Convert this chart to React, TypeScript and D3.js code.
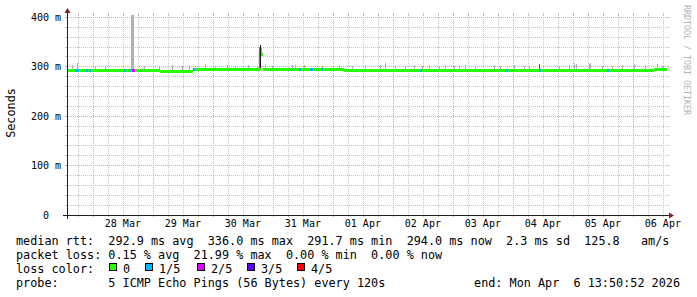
import React from 'react';
import * as d3 from 'd3';

// ---- time frame (UTC) ----
const END_MS = Date.UTC(2026, 3, 6, 13, 50, 52);
const RANGE_HOURS = 240;
const START_MS = END_MS - RANGE_HOURS * 3600e3;

// ---- median rtt (ms), step segments: hours after graph start ----
const medianHours = [0, 37.2, 50.4, 77.6, 78.4, 110.8, 234.8];
const medianMs = [293.0, 291.2, 294.5, 324.0, 294.5, 292.5, 294.0];

// ---- packet loss events: hour after start, lost pings (of 5) ----
const lossHours = [3.2, 4.0, 7.6, 9.0, 23.0, 25.0, 26.0, 26.4, 50.4, 92.8, 97.2, 97.6, 101.8, 141.2, 175.6, 188.8, 216.2];
const lossPings = [1, 1, 1, 1, 1, 1, 2, 2, 1, 1, 1, 1, 1, 1, 1, 1, 1];

// ---- smoke (other pings above the median): hour, top value (ms), pings at that height ----
const smokeHours = [
  2.0, 4.0, 11.2, 15.2, 25.6, 26.0, 26.4, 30.8, 36.8, 42.0, 46.0, 48.8, 55.2, 59.2, 64.0, 67.2, 72.4, 76.0,
  76.8, 77.2, 77.6,
  79.2, 82.0, 90.0, 91.2, 94.8, 102.0, 108.8, 114.0, 119.2, 125.2, 127.2, 131.2, 135.2, 138.8, 142.0, 144.8,
  148.8, 151.2, 154.8, 156.8,
  159.2, 163.2, 170.8, 173.2, 178.8, 182.8, 184.8, 188.8, 196.8, 200.8, 202.8, 203.6, 208.8, 209.2, 214.0,
  218.0, 222.0, 226.8, 231.2, 236.0, 238.0,
];
const smokeTopMs = [
  304, 307, 301, 301, 420, 420, 420, 301, 301, 304, 302, 303.5, 305, 302, 304, 302, 304, 302,
  340, 344, 338,
  303, 302, 304.5, 304.5, 304.5, 302, 304.5, 302, 303, 303, 308, 302, 302, 303, 302, 303,
  302, 303, 302, 303,
  303, 302, 303, 302, 303, 302, 302, 306, 302, 303, 308, 306, 305, 308, 302,
  302, 303, 306, 304, 305, 302,
];
const smokePings = [
  1, 1, 1, 1, 1, 1, 1, 1, 1, 1, 1, 1, 1, 1, 1, 1, 1, 1,
  3, 5, 2,
  1, 1, 1, 1, 1, 1, 1, 1, 1, 1, 1, 1, 1, 1, 1, 1,
  1, 1, 1, 1,
  1, 1, 1, 1, 1, 1, 1, 4, 1, 1, 1, 1, 1, 1, 1,
  1, 1, 1, 1, 1, 1,
];

// ---- axes ----
const yMajorMs = [0, 100, 200, 300, 400];
const dayLabels = ['28 Mar', '29 Mar', '30 Mar', '31 Mar', '01 Apr', '02 Apr', '03 Apr', '04 Apr', '05 Apr', '06 Apr'];

// ---- legend ----
const lossLabels = ['0', '1/5', '2/5', '3/5', '4/5'];
const lossColors = ['#26ff00', '#00b8ff', '#dd00ff', '#5e00ff', '#ff0000'];
const medianStats = ['292.9', '336.0', '291.7', '294.0'];
const lossStats = ['0.15', '21.99', '0.00', '0.00'];
const sdText = '2.3';
const amsText = '125.8';

const W = 697;
const H = 297;
const X0 = 67;
const X1 = 667;
const YB = 215;
const YT = 15;
const Y_MAX = 405;

const MONO = '"DejaVu Sans Mono", "Liberation Mono", monospace';
const GRID = '#c4c4c4';
const MGRID = '#e8a4a4';
const AXIS = '#1f1f1f';
const ARROW = '#801f1f';
const smokeGrey = ['#b0b0b0', '#a0a0a0', '#7c7c7c', '#555555', '#1a1a1a'];

export default function App() {
  const startDate = new Date(START_MS);
  const endDate = new Date(END_MS);
  const x = d3.scaleUtc().domain([startDate, endDate]).range([X0, X1]);
  const y = d3.scaleLinear().domain([0, Y_MAX]).range([YB, YT]);
  const tAt = (h: number) => new Date(START_MS + h * 3600e3);
  const medianAt = (h: number) => medianMs[Math.max(0, d3.bisectRight(medianHours, h) - 1)];
  const bandTop = (v: number) => Math.round(y(v) - 1.5);

  const sixHours = d3.utcHour.every(6)!.range(startDate, endDate);
  const days = d3.utcDay.range(d3.utcDay.ceil(startDate), endDate);
  const yGrid = y.ticks(20).filter((v) => v > 0);

  const line1 = `median rtt:  ${medianStats[0]} ms avg  ${medianStats[1]} ms max  ${medianStats[2]} ms min  ${medianStats[3]} ms now  ${sdText} ms sd  ${amsText}   am/s`;
  const line2 = `packet loss: ${lossStats[0]} % avg  ${lossStats[1]} % max  ${lossStats[2]} % min  ${lossStats[3]} % now`;
  const line4 = 'probe:       5 ICMP Echo Pings (56 Bytes) every 120s';
  const endText = 'end: Mon Apr  6 13:50:52 2026';
  const boxX = [109, 145, 197, 247, 297];

  return (
    <svg width={W} height={H} style={{ position: 'absolute', left: 0, top: 0, background: '#fff' }}
      fontFamily={MONO}>
      <rect x={0} y={0} width={W} height={H} fill="#fff" />
      <defs>
        <clipPath id="plot">
          <rect x={X0} y={YT} width={X1 - X0 + 1} height={YB - YT} />
        </clipPath>
      </defs>

      {/* horizontal grid */}
      {yGrid.map((v) => {
        const py = Math.floor(y(v)) + 0.5;
        const major = v % 100 === 0;
        const c = major ? MGRID : GRID;
        return (
          <g key={'h' + v}>
            <line x1={X0 - 2} x2={X0} y1={py} y2={py} stroke={c} />
            <line x1={X1} x2={X1 + 2} y1={py} y2={py} stroke={c} />
            <line x1={X0} x2={X1} y1={py} y2={py} stroke={c} strokeDasharray="1,1" />
          </g>
        );
      })}
      {/* vertical grid */}
      {sixHours.map((t) => {
        const px = Math.ceil(x(t)) + 0.5;
        const major = t.getUTCHours() === 0;
        const c = major ? MGRID : GRID;
        return (
          <g key={'v' + t.getTime()}>
            <line x1={px} x2={px} y1={YT - 2} y2={YT} stroke={c} />
            <line x1={px} x2={px} y1={YB} y2={YB + 2} stroke={c} />
            <line x1={px} x2={px} y1={YT} y2={YB} stroke={c} strokeDasharray="1,1" />
          </g>
        );
      })}

      <g clipPath="url(#plot)" shapeRendering="crispEdges">
        {/* smoke */}
        {smokeHours.map((h, i) => {
          const col = Math.floor(x(tAt(h)) + 0.01);
          const top = Math.round(y(smokeTopMs[i]));
          const bottom = bandTop(medianAt(h)) + 3;
          return (
            <rect key={'s' + i} x={col} y={top} width={1} height={Math.max(0, bottom - top)}
              fill={smokeGrey[smokePings[i] - 1]} />
          );
        })}
        {/* median band */}
        {medianHours.map((h, i) => {
          const xa = Math.round(x(tAt(h)));
          const xb = Math.round(x(tAt(i + 1 < medianHours.length ? medianHours[i + 1] : RANGE_HOURS)));
          return (
            <rect key={'m' + i} x={xa} y={bandTop(medianMs[i])} width={xb - xa} height={3} fill={lossColors[0]} />
          );
        })}
        {/* loss coloured median */}
        {lossHours.map((h, i) => {
          const col = Math.floor(x(tAt(h)) + 0.01);
          return (
            <rect key={'l' + i} x={col} y={bandTop(medianAt(h))} width={2} height={3} fill={lossColors[lossPings[i]]} />
          );
        })}
      </g>

      {/* axes */}
      <line x1={X0 - 4} x2={X1 + 4} y1={YB + 0.5} y2={YB + 0.5} stroke={AXIS} />
      <line x1={X0 + 0.5} x2={X0 + 0.5} y1={YB + 4} y2={YT - 4} stroke={AXIS} />
      <polygon points={`${X1 + 2},${YB - 2.5} ${X1 + 2},${YB + 3.5} ${X1 + 7},${YB + 0.5}`} fill={ARROW} />
      <polygon points={`${X0 - 2.5},${YT - 2} ${X0 + 3.5},${YT - 2} ${X0 + 0.5},${YT - 7}`} fill={ARROW} />

      {/* y labels */}
      {yMajorMs.map((v) => {
        const py = Math.floor(y(v)) + 0.5;
        return (
          <text key={'yl' + v} x={v === 0 ? 49 : 61} y={py + 3.6} fontSize={10} textAnchor="end" fill="#000">
            {v === 0 ? '0' : `${v} m`}
          </text>
        );
      })}
      {/* x labels */}
      {days.map((d, i) => (
        <text key={'xl' + i} x={x(d3.utcHour.offset(d, 12)) + 0.5} y={227} fontSize={10} textAnchor="middle" fill="#000">
          {dayLabels[i]}
        </text>
      ))}

      {/* axis title */}
      <text transform={`translate(15,113) rotate(-90)`} fontSize={11.8} textAnchor="middle" fill="#000">Seconds</text>
      {/* watermark */}
      <text transform={`translate(684,5) rotate(90)`} fontSize={8.3} fill="#b3b3b3">RRDTOOL / TOBI OETIKER</text>

      {/* legend */}
      <g fontSize={11.8} fill="#000" style={{ whiteSpace: 'pre' }}>
        <text x={16} y={245} style={{ whiteSpace: 'pre' }}>{line1}</text>
        <text x={16} y={258.7} style={{ whiteSpace: 'pre' }}>{line2}</text>
        <text x={16} y={272.5} style={{ whiteSpace: 'pre' }}>loss color:</text>
        {lossLabels.map((lab, i) => (
          <g key={'lg' + i}>
            <rect x={boxX[i] + 0.5} y={263.5} width={7} height={7} fill={lossColors[i]} stroke="#000" />
            <text x={boxX[i] + 14} y={272.5}>{lab}</text>
          </g>
        ))}
        <text x={16} y={286.5} style={{ whiteSpace: 'pre' }}>{line4}</text>
        <text x={680} y={286.5} textAnchor="end" style={{ whiteSpace: 'pre' }}>{endText}</text>
      </g>
    </svg>
  );
}
